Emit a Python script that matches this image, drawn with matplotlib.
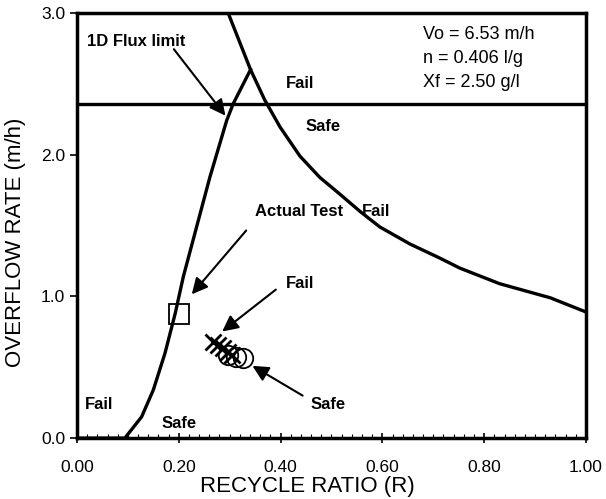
import matplotlib.pyplot as plt
from matplotlib.ticker import MultipleLocator

plt.rcParams['font.family'] = ['Liberation Sans', 'DejaVu Sans']

# flux curve (falling) - overflow limit vs recycle ratio
flux_r = [0.297, 0.341, 0.369, 0.399, 0.438, 0.477, 0.517, 0.556, 0.595, 0.654, 0.713, 0.752, 0.83, 0.93, 1.00]
flux_q = [3.00, 2.60, 2.385, 2.195, 1.99, 1.84, 1.72, 1.60, 1.49, 1.37, 1.27, 1.20, 1.09, 0.99, 0.89]

# rising curve
rise_r = [0.0, 0.094, 0.127, 0.150, 0.173, 0.193, 0.209, 0.235, 0.261, 0.294, 0.307, 0.341]
rise_q = [0.0, 0.0, 0.15, 0.34, 0.60, 0.88, 1.14, 1.49, 1.84, 2.24, 2.36, 2.60]

# 1D flux limit (horizontal)
flux_limit = 2.36

# test points
actual_r = [0.20]
actual_q = [0.875]
fail_r = [0.267, 0.277, 0.286, 0.296, 0.305]
fail_q = [0.68, 0.656, 0.633, 0.609, 0.585]
safe_r = [0.297, 0.312, 0.326]
safe_q = [0.59, 0.57, 0.565]

fig = plt.figure(figsize=(6.06, 4.99), dpi=100)
ax = fig.add_axes([0.127, 0.122, 0.84, 0.852])

lw = 2.4
ax.plot(flux_r, flux_q, color='black', lw=lw)
ax.plot(rise_r, rise_q, color='black', lw=lw)
ax.axhline(flux_limit, color='black', lw=lw)

ax.plot(actual_r, actual_q, 's', ms=15, mfc='none', mec='black', mew=1.3)
ax.plot(fail_r, fail_q, 'x', ms=11, color='black', mew=2.0)
ax.plot(safe_r, safe_q, 'o', ms=14, mfc='none', mec='black', mew=1.3)

ax.set_xlim(0, 1.0)
ax.set_ylim(0, 3.0)
ax.xaxis.set_major_locator(MultipleLocator(0.2))
ax.xaxis.set_minor_locator(MultipleLocator(0.02))
ax.yaxis.set_major_locator(MultipleLocator(1.0))
ax.xaxis.set_major_formatter(plt.FuncFormatter(lambda v, p: f'{v:.2f}'))
ax.yaxis.set_major_formatter(plt.FuncFormatter(lambda v, p: f'{v:.1f}'))
ax.tick_params(axis='x', which='major', direction='inout', length=7, width=1.2, labelsize=12.5, pad=12)
ax.tick_params(axis='x', which='minor', direction='in', length=3, width=0.8)
ax.tick_params(axis='y', which='major', direction='out', length=5, width=1.2, labelsize=12.5)
for s in ax.spines.values():
    s.set_linewidth(2.5)

ax.set_xlabel('RECYCLE RATIO (R)', fontsize=16)
ax.set_ylabel('OVERFLOW RATE (m/h)', fontsize=16)
ax.xaxis.set_label_coords(0.452, -0.088)
ax.yaxis.set_label_coords(-0.10, 0.46)

tfs = 13
ax.text(0.68, 2.85, 'Vo = 6.53 m/h', fontsize=tfs, va='center')
ax.text(0.68, 2.68, 'n = 0.406 l/g', fontsize=tfs, va='center')
ax.text(0.68, 2.51, 'Xf = 2.50 g/l', fontsize=tfs, va='center')

bold = dict(fontsize=12, fontweight='bold', va='center')
ax.text(0.41, 2.50, 'Fail', **bold)
ax.text(0.45, 2.20, 'Safe', **bold)
ax.text(0.56, 1.60, 'Fail', **bold)
ax.text(0.016, 0.24, 'Fail', **bold)
ax.text(0.167, 0.10, 'Safe', **bold)
ax.text(0.02, 2.80, '1D Flux limit', **bold)
ax.text(0.35, 1.60, 'Actual Test', **bold)
ax.text(0.41, 1.09, 'Fail', **bold)
ax.text(0.458, 0.24, 'Safe', **bold)

arrow = dict(arrowstyle='-|>', color='black', lw=1.5, mutation_scale=24)
ax.annotate('', xy=(0.295, 2.26), xytext=(0.187, 2.76), arrowprops=arrow)
ax.annotate('', xy=(0.222, 1.0), xytext=(0.336, 1.48), arrowprops=arrow)
ax.annotate('', xy=(0.281, 0.74), xytext=(0.395, 1.06), arrowprops=arrow)
ax.annotate('', xy=(0.34, 0.52), xytext=(0.448, 0.29), arrowprops=arrow)

fig.savefig('out.png', dpi=100)
